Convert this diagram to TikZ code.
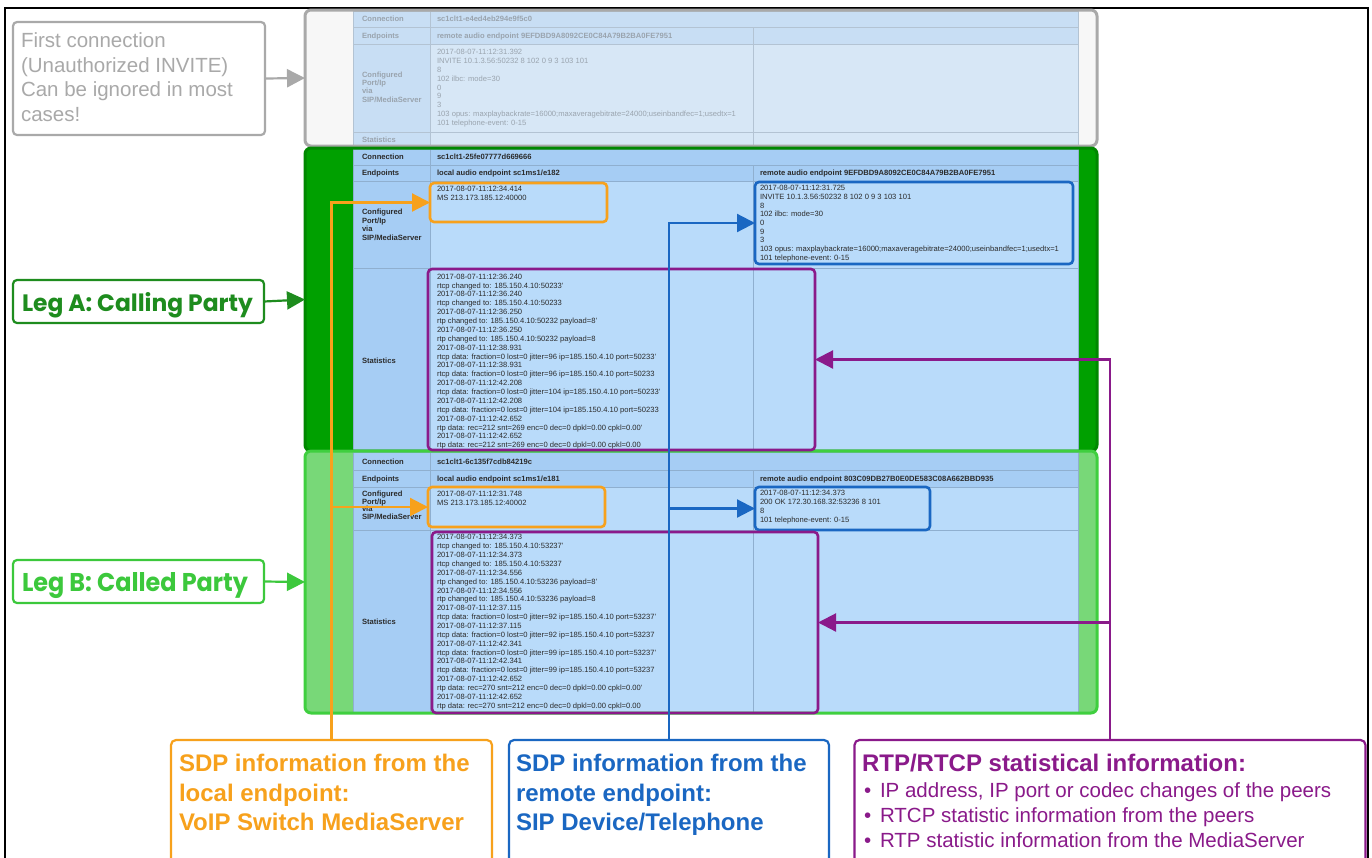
\documentclass[tikz,border=0pt]{standalone}
\usepackage{fontspec}
\setmainfont{Liberation Sans}
\newfontfamily\legfont{Poppins}
\usetikzlibrary{arrows.meta}

% table colours
\definecolor{tblhdr}{HTML}{A6CDF4}
\definecolor{tblcell}{HTML}{B9DBFA}
\definecolor{tblline}{HTML}{8FAFCF}
\definecolor{tbltext}{HTML}{2B2B2B}
\definecolor{ghdr}{HTML}{C8DEF4}
\definecolor{gcell}{HTML}{D7E7F6}
\definecolor{gline}{HTML}{B3C3D3}
\definecolor{gtextc}{HTML}{9AA4AE}
% frames and callouts
\definecolor{greybox}{HTML}{A9A9A9}
\definecolor{greyfill}{HTML}{F7F7F7}
\definecolor{legAgreen}{HTML}{00A000}
\definecolor{legAtext}{HTML}{1E8C1E}
\definecolor{legBgreen}{HTML}{78D878}
\definecolor{legBline}{HTML}{3FCF3F}
\definecolor{legBtext}{HTML}{3CC83C}
\definecolor{sdporange}{HTML}{F7A11C}
\definecolor{sdpblue}{HTML}{1A67C2}
\definecolor{rtppurple}{HTML}{8A1A8A}

\newcommand\tf[1]{\fontsize{7.6}{#1}\selectfont}

% one connection table: header colour, cell colour, line colour, five row borders
\newcommand\conntable[8]{%
  \fill[#1] (353,#4) rectangle (1078,#6);
  \fill[#1] (353,#6) rectangle (430,#8);
  \fill[#2] (430,#6) rectangle (1078,#8);
  \draw[#3, line width=0.8pt] (353,#4) rectangle (1078,#8);
  \draw[#3, line width=0.8pt] (353,#5) -- (1078,#5) (353,#6) -- (1078,#6) (353,#7) -- (1078,#7);
  \draw[#3, line width=0.8pt] (430,#4) -- (430,#8) (753,#5) -- (753,#8);
}

\newcommand\cfglabel{Configured\\Port/Ip\\via\\SIP/MediaServer}
\newcommand\sdpinvite{INVITE 10.1.3.56:50232 8 102 0 9 3 103 101\\8\\102 ilbc: mode=30\\0\\9\\3\\103 opus: maxplaybackrate=16000;maxaveragebitrate=24000;useinbandfec=1;usedtx=1\\101 telephone-event: 0-15}

\newcommand\statsA{2017-08-07-11:12:36.240\\rtcp changed to: 185.150.4.10:50233'\\2017-08-07-11:12:36.240\\rtcp changed to: 185.150.4.10:50233\\2017-08-07-11:12:36.250\\rtp changed to: 185.150.4.10:50232 payload=8'\\2017-08-07-11:12:36.250\\rtp changed to: 185.150.4.10:50232 payload=8\\2017-08-07-11:12:38.931\\rtcp data: fraction=0 lost=0 jitter=96 ip=185.150.4.10 port=50233'\\2017-08-07-11:12:38.931\\rtcp data: fraction=0 lost=0 jitter=96 ip=185.150.4.10 port=50233\\2017-08-07-11:12:42.208\\rtcp data: fraction=0 lost=0 jitter=104 ip=185.150.4.10 port=50233'\\2017-08-07-11:12:42.208\\rtcp data: fraction=0 lost=0 jitter=104 ip=185.150.4.10 port=50233\\2017-08-07-11:12:42.652\\rtp data: rec=212 snt=269 enc=0 dec=0 dpkl=0.00 cpkl=0.00'\\2017-08-07-11:12:42.652\\rtp data: rec=212 snt=269 enc=0 dec=0 dpkl=0.00 cpkl=0.00}

\newcommand\statsB{2017-08-07-11:12:34.373\\rtcp changed to: 185.150.4.10:53237'\\2017-08-07-11:12:34.373\\rtcp changed to: 185.150.4.10:53237\\2017-08-07-11:12:34.556\\rtp changed to: 185.150.4.10:53236 payload=8'\\2017-08-07-11:12:34.556\\rtp changed to: 185.150.4.10:53236 payload=8\\2017-08-07-11:12:37.115\\rtcp data: fraction=0 lost=0 jitter=92 ip=185.150.4.10 port=53237'\\2017-08-07-11:12:37.115\\rtcp data: fraction=0 lost=0 jitter=92 ip=185.150.4.10 port=53237\\2017-08-07-11:12:42.341\\rtcp data: fraction=0 lost=0 jitter=99 ip=185.150.4.10 port=53237'\\2017-08-07-11:12:42.341\\rtcp data: fraction=0 lost=0 jitter=99 ip=185.150.4.10 port=53237\\2017-08-07-11:12:42.652\\rtp data: rec=270 snt=212 enc=0 dec=0 dpkl=0.00 cpkl=0.00'\\2017-08-07-11:12:42.652\\rtp data: rec=270 snt=212 enc=0 dec=0 dpkl=0.00 cpkl=0.00}

\begin{document}
\begin{tikzpicture}[x=1pt,y=-1pt,
  every node/.style={inner sep=0pt, outer sep=0pt},
  ttext/.style={anchor=base west, font=\tf{8.8}, text=tbltext},
  tbold/.style={anchor=base west, font=\tf{8.8}\bfseries, text=tbltext},
  tblock/.style={anchor=north west, align=left, text=tbltext},
  gt/.style={text=gtextc},
  framebox/.style={minimum width=792pt},
  hilite/.style={line width=2.6pt, rounded corners=4pt},
  labelbox/.style={line width=2.2pt, rounded corners=4pt, fill=white},
  callout/.style={line width=2.2pt, rounded corners=5pt, fill=white, minimum height=130pt},
  bigtext/.style={anchor=base west, font=\fontsize{24}{29}\selectfont\bfseries},
  bullettext/.style={anchor=base west, font=\fontsize{20.5}{25}\selectfont, text=rtppurple},
  conn/.style={line width=2.2pt, -{Triangle[length=18pt,width=18pt]}},
]
\useasboundingbox (0,0) rectangle (1372,857);
\clip (0,0) rectangle (1372,857);
\fill[white] (0,0) rectangle (1372,857);
\draw[black, line width=2pt] (5,900) -- (5,8) -- (1368,8) -- (1368,900);

% ---------------- first connection (faded) ----------------
\node[framebox, minimum height=136pt, fill=greyfill, rounded corners=6pt] (graybox) at (701,78) {};
\conntable{ghdr}{gcell}{gline}{11}{27}{44}{132}{146}
\node[tbold, gt] (g1) at (362,21.8) {Connection};
\node[tbold, gt] (g2) at (437,21.8) {sc1clt1-e4ed4eb294e9f5c0};
\node[tbold, gt] (g3) at (362,38.5) {Endpoints};
\node[tbold, gt] (g4) at (437,38.5) {remote audio endpoint 9EFDBD9A8092CE0C84A79B2BA0FE7951};
\node[tblock, gt, font=\tf{8.3}\bfseries] (g5) at (362,71.7) {\cfglabel};
\node[tblock, gt, font=\tf{8.95}] (g6) at (437,48.9) {2017-08-07-11:12:31.392\\\sdpinvite};
\node[tbold, gt] (g7) at (362,142.8) {Statistics};
\draw[greybox, line width=3pt, rounded corners=6pt] (graybox.north west) rectangle (graybox.south east);

% ---------------- leg A ----------------
\node[framebox, minimum height=303pt, fill=legAgreen, rounded corners=6pt] (legAbox) at (701,299.5) {};
\conntable{tblhdr}{tblcell}{tblline}{149}{165}{181}{268}{451}
\node[tbold] (a1) at (362,159.1) {Connection};
\node[tbold] (a2) at (437,159.1) {sc1clt1-25fe07777d669666};
\node[tbold] (a3) at (362,175.8) {Endpoints};
\node[tbold] (a4) at (437,175.8) {local audio endpoint sc1ms1/e182};
\node[tbold] (a5) at (760,175.8) {remote audio endpoint 9EFDBD9A8092CE0C84A79B2BA0FE7951};
\node[tblock, font=\tf{8.7}\bfseries] (a6) at (362,208.9) {\cfglabel};
\node[tblock, font=\tf{8.5}] (a7) at (437,186.2) {2017-08-07-11:12:34.414\\MS 213.173.185.12:40000};
\node[tblock, font=\tf{8.68}] (a8) at (760,185.5) {2017-08-07-11:12:31.725\\\sdpinvite};
\node[tbold] (a9) at (362,363.8) {Statistics};
\node[tblock, font=\tf{8.87}] (a10) at (437,273.9) {\statsA};
\draw[legAgreen!85!black, line width=3pt, rounded corners=6pt] (legAbox.north west) rectangle (legAbox.south east);

% ---------------- leg B ----------------
\node[framebox, minimum height=262pt, fill=legBgreen, rounded corners=6pt] (legBbox) at (701,582) {};
\conntable{tblhdr}{tblcell}{tblline}{452}{470}{487}{530}{713}
\node[tbold] (b1) at (362,464.5) {Connection};
\node[tbold] (b2) at (437,464.5) {sc1clt1-6c135f7cdb84219c};
\node[tbold] (b3) at (362,481.1) {Endpoints};
\node[tbold] (b4) at (437,481.1) {local audio endpoint sc1ms1/e181};
\node[tbold] (b5) at (760,481.1) {remote audio endpoint 803C09DB27B0E0DE583C08A662BBD935};
\node[tblock, font=\tf{7.1}\bfseries] (b6) at (362,491.2) {\cfglabel};
\node[tblock, font=\tf{8.7}] (b7) at (437,491.2) {2017-08-07-11:12:31.748\\MS 213.173.185.12:40002};
\node[tblock, font=\tf{9}] (b8) at (760,490.5) {2017-08-07-11:12:34.373\\200 OK 172.30.168.32:53236 8 101\\8\\101 telephone-event: 0-15};
\node[tbold] (b9) at (362,624.8) {Statistics};
\node[tblock, font=\tf{8.87}] (b10) at (437,534.5) {\statsB};
\draw[legBline, line width=3pt, rounded corners=6pt] (legBbox.north west) rectangle (legBbox.south east);

% ---------------- highlighted cells ----------------
\node[hilite, draw=sdporange, minimum width=177pt, minimum height=39pt] (oA) at (518.5,202.5) {};
\node[hilite, draw=sdporange, minimum width=177pt, minimum height=40pt] (oB) at (516.5,507) {};
\node[hilite, draw=sdpblue, minimum width=318pt, minimum height=82pt] (bA) at (914,223) {};
\node[hilite, draw=sdpblue, minimum width=175pt, minimum height=43pt] (bB) at (842.5,508.5) {};
\node[hilite, draw=rtppurple, minimum width=387pt, minimum height=181pt] (pA) at (621.5,359.5) {};
\node[hilite, draw=rtppurple, minimum width=386pt, minimum height=181pt] (pB) at (625,622.5) {};

% ---------------- left labels ----------------
\node[labelbox, draw=greybox, minimum width=252pt, minimum height=113pt] (firstconn) at (139,78.5) {};
\node[anchor=base west, font=\fontsize{20.5}{25}\selectfont, text=greybox] (fc1) at (21,47.3) {First connection};
\node[anchor=base west, font=\fontsize{20.5}{25}\selectfont, text=greybox] (fc2) at (21,72) {(Unauthorized INVITE)};
\node[anchor=base west, font=\fontsize{20.5}{25}\selectfont, text=greybox] (fc3) at (21,96.8) {Can be ignored in most};
\node[anchor=base west, font=\fontsize{20.5}{25}\selectfont, text=greybox] (fc4) at (21,121.5) {cases!};
\draw[greybox, conn] (firstconn.east) -- (graybox.west);

\node[labelbox, draw=legAtext, minimum width=251pt, minimum height=43pt] (legAlbl) at (138.5,301.5) {};
\node[anchor=base west, text=legAtext] (legAtxt) at (22,311.7) {\resizebox{231pt}{19pt}{\legfont\bfseries Leg A: Calling Party}};
\draw[legAtext, conn] (legAlbl.east) -- (legAbox.west);

\node[labelbox, draw=legBtext, minimum width=251pt, minimum height=43pt] (legBlbl) at (138.5,581.5) {};
\node[anchor=base west, text=legBtext] (legBtxt) at (22,591) {\resizebox{226pt}{19pt}{\legfont\bfseries Leg B: Called Party}};
\draw[legBtext, conn] (legBlbl.east) -- (legBbox.west);

% ---------------- callouts at the bottom ----------------
\node[callout, draw=sdporange, minimum width=321pt] (sdpL) at (331.5,805) {};
\node[bigtext, text=sdporange] (sdpL1) at (179,771.5) {SDP information from the};
\node[bigtext, text=sdporange] (sdpL2) at (179,801) {local endpoint:};
\node[bigtext, text=sdporange] (sdpL3) at (179,830) {VoIP Switch MediaServer};

\node[callout, draw=sdpblue, minimum width=320pt] (sdpR) at (669,805) {};
\node[bigtext, text=sdpblue] (sdpR1) at (516,771.5) {SDP information from the};
\node[bigtext, text=sdpblue] (sdpR2) at (516,801) {remote endpoint:};
\node[bigtext, text=sdpblue] (sdpR3) at (516,830) {SIP Device/Telephone};

\node[callout, draw=rtppurple, minimum width=511pt] (rtp) at (1110,805) {};
\node[bigtext, text=rtppurple] (rtp0) at (862,771.5) {RTP/RTCP statistical information:};
\node[bullettext] (rtpb1) at (864,797) {\textbullet};
\node[bullettext] (rtp1) at (880,797) {IP address, IP port or codec changes of the peers};
\node[bullettext] (rtpb2) at (864,822) {\textbullet};
\node[bullettext] (rtp2) at (880,822) {RTCP statistic information from the peers};
\node[bullettext] (rtpb3) at (864,847) {\textbullet};
\node[bullettext] (rtp3) at (880,847) {RTP statistic information from the MediaServer};

% ---------------- connectors ----------------
\draw[sdporange, conn] (sdpL.north) |- (oA.west);
\draw[sdporange, conn] (sdpL.north |- oB.west) -- (oB.west);
\draw[sdpblue, conn] (sdpR.north) |- (bA.west);
\draw[sdpblue, conn] (sdpR.north |- bB.west) -- (bB.west);
\draw[rtppurple, conn] (rtp.north) |- (pA.east);
\draw[rtppurple, conn] (rtp.north |- pB.east) -- (pB.east);
\end{tikzpicture}
\end{document}
